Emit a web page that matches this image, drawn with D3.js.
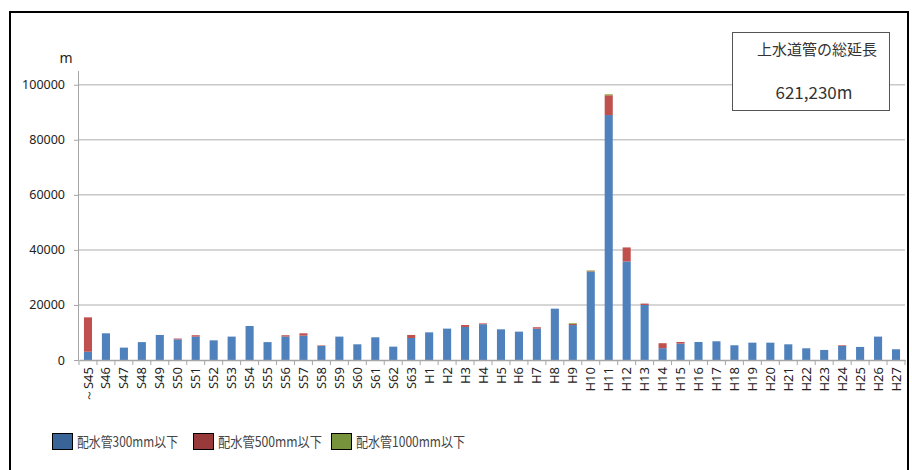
<!DOCTYPE html>
<html>
<head>
<meta charset="utf-8">
<script src="https://cdn.jsdelivr.net/npm/d3@7"></script>
<style>
  html, body { margin: 0; padding: 0; background: #fff; }
  svg { display: block; }
</style>
</head>
<body>
<svg id="chart" width="912" height="470"></svg>
<script>
// Fiscal years of installation (Showa / Heisei)
const categories = [
  "～S45","S46","S47","S48","S49","S50","S51","S52","S53","S54","S55","S56","S57","S58","S59",
  "S60","S61","S62","S63","H1","H2","H3","H4","H5","H6","H7","H8","H9","H10","H11","H12",
  "H13","H14","H15","H16","H17","H18","H19","H20","H21","H22","H23","H24","H25","H26","H27"
];

// Installed length (m) by pipe diameter class
const pipe300 = [
  3000, 9700, 4500, 6500, 9100, 7500, 8500, 7150, 8500, 12350, 6500, 8500, 8850, 5100, 8500,
  5700, 8250, 4850, 8000, 10050, 11400, 12000, 13000, 11150, 10300, 11400, 18650, 12700, 32100, 89000, 35800,
  20000, 4300, 5950, 6550, 6800, 5350, 6300, 6300, 5700, 4250, 3650, 5100, 4750, 8500, 3900
];
const pipe500 = [
  12500, 0, 0, 0, 0, 300, 500, 0, 0, 0, 0, 500, 850, 200, 0,
  0, 0, 0, 1100, 0, 0, 700, 300, 0, 0, 500, 0, 400, 200, 7200, 5100,
  500, 1800, 600, 0, 0, 0, 0, 0, 0, 0, 0, 250, 0, 0, 0
];
const pipe1000 = [
  0, 0, 0, 0, 0, 0, 0, 0, 0, 0, 0, 0, 0, 0, 0,
  0, 0, 0, 0, 0, 0, 0, 0, 0, 0, 0, 0, 350, 300, 400, 0,
  0, 0, 0, 0, 0, 0, 0, 0, 0, 0, 0, 0, 0, 0, 0
];

const seriesNames = ["配水管300mm以下", "配水管500mm以下", "配水管1000mm以下"];
const yTicks = [0, 20000, 40000, 60000, 80000, 100000];
const totalTitle = "上水道管の総延長";
const totalLabel = "621,230m";

const barColors = ["#4f81bd", "#c0504d", "#9bbb59"];
const swatchColors = ["#386498", "#98393a", "#77933c"];

const svg = d3.select("#chart");
const margin = { left: 79, right: 905, top: 71, bottom: 360 };

// Outer frame
svg.append("rect")
  .attr("x", 10).attr("y", 12).attr("width", 898).attr("height", 520)
  .attr("fill", "#fff").attr("stroke", "#000").attr("stroke-width", 2);

const x = d3.scaleBand().domain(categories).range([margin.left, margin.right]).paddingInner(0.55).paddingOuter(0.275);
const xb = d3.scaleBand().domain(categories).range([margin.left, margin.right]);
const y = d3.scaleLinear().domain([0, 105000]).range([margin.bottom, margin.top]);

// Gridlines
svg.append("g").selectAll("line").data(yTicks.filter(d => d > 0)).join("line")
  .attr("x1", margin.left).attr("x2", margin.right)
  .attr("y1", d => y(d)).attr("y2", d => y(d))
  .attr("stroke", "#c8c8c8").attr("stroke-width", 1.5);

// Y axis
const yAxis = svg.append("g").attr("transform", `translate(${margin.left},0)`)
  .call(d3.axisLeft(y).tickValues(yTicks).tickSize(5).tickPadding(9).tickFormat(d3.format("d")));
yAxis.select(".domain").attr("stroke", "#a6a6a6").attr("d", `M-0.5,${margin.bottom}V${margin.top}`);
yAxis.selectAll(".tick line").attr("stroke", "#a6a6a6");
yAxis.selectAll(".tick text")
  .attr("font-family", "'Noto Sans', 'Liberation Sans', sans-serif")
  .attr("font-size", "12.5px").attr("fill", "#222");

svg.append("text").attr("x", 66).attr("y", 63).attr("text-anchor", "middle")
  .attr("font-family", "'Noto Sans', sans-serif").attr("font-size", "14px").attr("fill", "#222")
  .text("m");

// Stacked bars
const rows = categories.map((c, i) => ({ cat: c, a: pipe300[i], b: pipe500[i], c: pipe1000[i] }));
const stack = d3.stack().keys(["a", "b", "c"])(rows);
svg.append("g").selectAll("g").data(stack).join("g")
  .attr("fill", (d, i) => barColors[i])
  .selectAll("rect").data(d => d.filter(s => s[1] > s[0])).join("rect")
  .attr("x", d => x(d.data.cat))
  .attr("width", x.bandwidth())
  .attr("y", d => y(d[1]))
  .attr("height", d => y(d[0]) - y(d[1]));

// X axis
const xAxis = svg.append("g").attr("transform", `translate(0,${margin.bottom})`)
  .call(d3.axisBottom(xb).tickSize(0).tickPadding(0));
xAxis.select(".domain").attr("stroke", "#a6a6a6").attr("stroke-width", 1.5);
// tick marks between categories
xAxis.append("g").selectAll("line").data(d3.range(categories.length + 1)).join("line")
  .attr("x1", i => margin.left + i * xb.step()).attr("x2", i => margin.left + i * xb.step())
  .attr("y1", 0).attr("y2", 5).attr("stroke", "#a6a6a6");
xAxis.selectAll(".tick text")
  .attr("transform", "rotate(-90)")
  .attr("text-anchor", "end")
  .attr("x", -7).attr("y", 0).attr("dy", "0.35em")
  .attr("font-family", "'Noto Sans', 'Liberation Sans', sans-serif")
  .attr("font-size", "13px").attr("fill", "#222");

// Legend
const legendX = [52, 193, 331];
const legendTextWidth = [101, 104, 109];
const legend = svg.append("g").selectAll("g").data(seriesNames).join("g")
  .attr("transform", (d, i) => `translate(${legendX[i]},433)`);
legend.append("rect").attr("x", 0.5).attr("y", 0.5).attr("width", 20).attr("height", 16)
  .attr("fill", (d, i) => swatchColors[i]).attr("stroke", "#000").attr("stroke-width", 1);
legend.append("text").attr("x", 25).attr("y", 14)
  .attr("font-family", "'Noto Sans CJK JP', sans-serif").attr("font-size", "14px").attr("fill", "#444")
  .attr("textLength", (d, i) => legendTextWidth[i]).attr("lengthAdjust", "spacingAndGlyphs")
  .text(d => d);

// Total length box
svg.append("rect").attr("x", 732.5).attr("y", 32.5).attr("width", 157).attr("height", 78)
  .attr("fill", "#fff").attr("stroke", "#555").attr("stroke-width", 1);
svg.append("text").attr("x", 817).attr("y", 55).attr("text-anchor", "middle")
  .attr("font-family", "'Noto Sans CJK JP', sans-serif").attr("font-size", "15px").attr("fill", "#333")
  .text(totalTitle);
svg.append("text").attr("x", 814).attr("y", 99).attr("text-anchor", "middle")
  .attr("font-family", "'Noto Sans CJK JP', sans-serif").attr("font-size", "17px").attr("fill", "#333")
  .text(totalLabel);
</script>
</body>
</html>
